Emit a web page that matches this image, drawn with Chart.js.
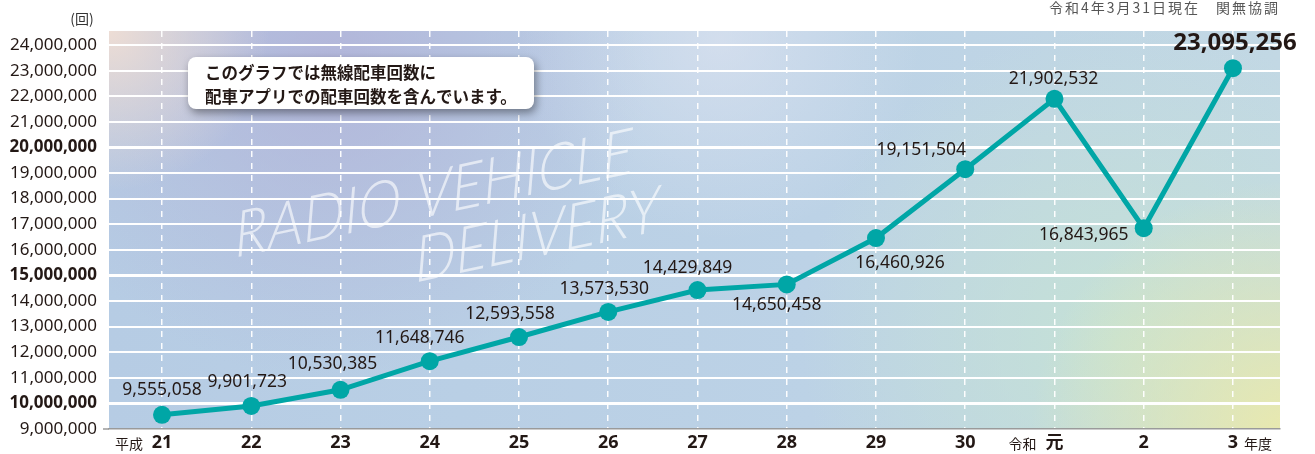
<!DOCTYPE html>
<html lang="ja">
  <head>
    <meta charset="UTF-8" />
    <title>配車回数</title>
    <style>
      html, body { margin: 0; padding: 0; background: #fff; }
      #chart { display: block; }
    </style>
  </head>
  <body>
    <canvas id="chart" width="1315" height="454"></canvas>

    <script src="https://cdn.jsdelivr.net/npm/chart.js@4/dist/chart.umd.min.js"></script>
    <script>
      // 年度（平成21〜令和3）
      const years = ['21', '22', '23', '24', '25', '26', '27', '28', '29', '30', '元', '2', '3'];
      // 配車回数（回）
      const counts = [9555058, 9901723, 10530385, 11648746, 12593558, 13573530, 14429849,
                      14650458, 16460926, 19151504, 21902532, 16843965, 23095256];
      // 縦軸の目盛
      const yTicks = [9000000, 10000000, 11000000, 12000000, 13000000, 14000000, 15000000, 16000000,
                      17000000, 18000000, 19000000, 20000000, 21000000, 22000000, 23000000, 24000000];
      const boldTicks = [10000000, 15000000, 20000000];

      const FONT = "'Noto Sans', 'Noto Sans CJK JP', sans-serif";
      const JP = "'Noto Sans CJK JP', 'Noto Sans', sans-serif";
      const TEXT = '#231815';
      const TEAL = '#00a6a6';

      const isBold = c => !!(c && c.tick && boldTicks.includes(c.tick.value));

      // ラベルの位置（点からのずれ）
      const labelOffsets = [[0, -25], [-4, -24], [-8, -26], [-10, -23], [-9, -23], [-4, -23], [-10, -22],
                            [-10, 21], [24, 25], [-44, -19], [-1, -20], [-60, 7], [2, -25]];

      // 背景のグラデーション
      const bgPlugin = {
        id: 'bg',
        beforeDraw(chart) {
          const {ctx, chartArea: a} = chart;
          ctx.save();
          ctx.beginPath();
          ctx.rect(a.left, a.top, a.right - a.left, a.bottom - a.top);
          ctx.clip();

          let g = ctx.createLinearGradient(a.left, a.top, a.right, a.top);
          g.addColorStop(0, '#b6cce4');
          g.addColorStop(0.6, '#bcd2e6');
          g.addColorStop(1, '#c2d8e4');
          ctx.fillStyle = g;
          ctx.fillRect(a.left, a.top, a.right - a.left, a.bottom - a.top);

          function blob(x, y, r, color) {
            const rg = ctx.createRadialGradient(x, y, 0, x, y, r);
            rg.addColorStop(0, color);
            rg.addColorStop(1, color.replace(/[\d.]+\)$/, '0)'));
            ctx.fillStyle = rg;
            ctx.fillRect(a.left, a.top, a.right - a.left, a.bottom - a.top);
          }
          blob(330, 60, 320, 'rgba(176,174,214,0.75)');
          blob(a.left, a.top, 160, 'rgba(240,222,212,0.95)');
          blob(720, 40, 200, 'rgba(226,230,242,0.6)');
          blob(1120, 340, 320, 'rgba(198,228,210,0.8)');
          blob(1290, 440, 260, 'rgba(236,234,170,0.95)');

          // RADIO VEHICLE DELIVERY
          ctx.translate(233, 258);
          ctx.rotate(-12 * Math.PI / 180);
          ctx.fillStyle = 'rgba(255,255,255,0.62)';
          ctx.font = "300 63px Lato, 'Noto Sans', sans-serif";
          ctx.textBaseline = 'alphabetic';
          ctx.save();
          ctx.transform(0.88, 0, -0.3, 1, 0, 0);
          ctx.fillText('RADIO VEHICLE', 0, 0);
          ctx.restore();
          ctx.save();
          ctx.translate(171, 62);
          ctx.transform(0.88, 0, -0.3, 1, 0, 0);
          ctx.fillText('DELIVERY', 0, 0);
          ctx.restore();
          ctx.restore();
        }
      };

      // 数値ラベル・注記
      const textPlugin = {
        id: 'texts',
        afterDatasetsDraw(chart) {
          const {ctx} = chart;
          const meta = chart.getDatasetMeta(0);
          ctx.save();
          ctx.textAlign = 'center';
          ctx.textBaseline = 'middle';
          ctx.fillStyle = TEXT;
          meta.data.forEach((pt, i) => {
            const last = i === counts.length - 1;
            ctx.font = last ? 'bold 24px ' + FONT : '17.5px ' + FONT;
            const [dx, dy] = labelOffsets[i];
            ctx.fillText(counts[i].toLocaleString('en-US'), pt.x + dx, pt.y + dy);
          });
          ctx.restore();
        },
        afterDraw(chart) {
          const {ctx, scales: {x}} = chart;
          ctx.save();

          // 注記ボックス
          ctx.save();
          ctx.shadowColor = 'rgba(0,0,0,0.4)';
          ctx.shadowBlur = 8;
          ctx.shadowOffsetX = 2;
          ctx.shadowOffsetY = 4;
          ctx.fillStyle = '#ffffff';
          ctx.beginPath();
          ctx.roundRect(188, 57, 346, 52, 8);
          ctx.fill();
          ctx.restore();

          ctx.fillStyle = TEXT;
          ctx.textBaseline = 'middle';
          ctx.textAlign = 'left';
          ctx.font = '600 16.5px ' + JP;
          ctx.fillText('このグラフでは無線配車回数に', 205, 73);
          ctx.fillText('配車アプリでの配車回数を含んでいます。', 205, 97);

          // 単位
          ctx.font = '14px ' + JP;
          ctx.fillStyle = '#333';
          ctx.textAlign = 'center';
          ctx.fillText('(回)', 82, 19);

          // 出典
          ctx.font = '14px ' + JP;
          ctx.fillStyle = '#555';
          ctx.textAlign = 'right';
          ctx.letterSpacing = '2px';
          ctx.fillText('令和4年3月31日現在　関無協調', 1280, 8);
          ctx.letterSpacing = '0px';

          // 元号・年度
          ctx.font = '14px ' + JP;
          ctx.fillStyle = TEXT;
          const ly = 444;
          ctx.textAlign = 'right';
          ctx.fillText('平成', x.getPixelForValue(0) - 19, ly);
          ctx.fillText('令和', x.getPixelForValue(10) - 18, ly);
          ctx.textAlign = 'left';
          ctx.fillText('年度', x.getPixelForValue(12) + 11, ly);
          ctx.restore();
        }
      };

      const ctx = document.getElementById('chart');
      new Chart(ctx, {
        type: 'line',
        data: {
          datasets: [{
            data: counts.map((v, i) => ({x: i, y: v})),
            borderColor: TEAL,
            backgroundColor: TEAL,
            borderWidth: 5,
            pointRadius: 9,
            pointBackgroundColor: TEAL,
            pointBorderWidth: 0,
            tension: 0,
            fill: false
          }]
        },
        options: {
          responsive: false,
          animation: false,
          devicePixelRatio: 1,
          layout: {padding: {left: 0, right: 35, top: 31, bottom: 0}},
          plugins: {legend: {display: false}, tooltip: {enabled: false}},
          scales: {
            x: {
              type: 'linear',
              min: -0.594,
              max: 12.527,
              afterBuildTicks: s => { s.ticks = years.map((_, i) => ({value: i})); },
              afterFit: s => { s.height = 25; },
              ticks: {
                callback: v => years[v],
                font: {family: FONT, size: 18, weight: 'bold'},
                color: TEXT,
                padding: 3,
                maxRotation: 0,
                autoSkip: false
              },
              grid: {color: 'rgba(255,255,255,0.95)', lineWidth: 1.5, drawTicks: false},
              border: {display: true, color: '#9a9a9a', width: 1.5, dash: [6, 6]}
            },
            y: {
              min: 9000000,
              max: 24550000,
              afterBuildTicks: s => { s.ticks = yTicks.map(v => ({value: v})); },
              afterFit: s => { s.width = 109; },
              ticks: {
                callback: v => v.toLocaleString('en-US'),
                font: c => ({family: FONT, size: 17, weight: isBold(c) ? 'bold' : 'normal'}),
                color: TEXT,
                padding: 6
              },
              grid: {
                color: '#ffffff',
                lineWidth: c => isBold(c) ? 3 : 2,
                drawTicks: true,
                tickLength: 6,
                tickColor: c => (c && c.tick && c.tick.value === 9000000) ? '#9a9a9a' : 'rgba(0,0,0,0)',
                tickWidth: 1.5
              },
              border: {display: false}
            }
          }
        },
        plugins: [bgPlugin, textPlugin]
      });
    </script>
  </body>
</html>
